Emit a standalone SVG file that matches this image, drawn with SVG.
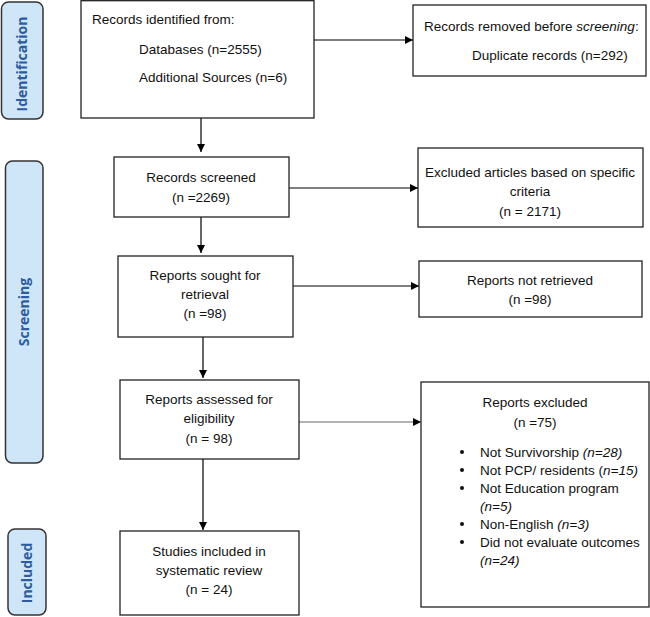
<svg xmlns="http://www.w3.org/2000/svg" width="650" height="617" viewBox="0 0 650 617">
<defs>
<marker id="ah" viewBox="0 0 10 10" refX="10" refY="5" markerWidth="8" markerHeight="8" markerUnits="userSpaceOnUse" orient="auto">
<path d="M0,0 L10,5 L0,10 Z" fill="#000"/>
</marker>
<style>
.box{fill:#fff;stroke:#222;stroke-width:1.3}
.tab{fill:#cfe6f8;stroke:#333;stroke-width:1.5}
.tl{font-family:"Open Sans","Liberation Sans",sans-serif;font-size:14px;font-weight:bold;fill:#2e5c9e;text-anchor:middle}
.t{font-family:"Liberation Sans",Arial,sans-serif;font-size:13.5px;fill:#111}
.c{text-anchor:middle}
.e{stroke:#000;stroke-width:1.2;fill:none;marker-end:url(#ah)}
.g{stroke:#666}
</style>
</defs>
<g id="tab-identification">
<rect class="tab" x="1.5" y="2" width="41.5" height="117" rx="7"/>
<text class="tl" transform="translate(27,64) rotate(-90)">Identification</text>
</g>
<g id="tab-screening">
<rect class="tab" x="5.5" y="161" width="37.5" height="302" rx="7"/>
<text class="tl" transform="translate(29,312) rotate(-90)">Screening</text>
</g>
<g id="tab-included">
<rect class="tab" x="8" y="529" width="38" height="86" rx="7"/>
<text class="tl" transform="translate(32,573) rotate(-90)">Included</text>
</g>
<g id="connectors">
<line class="e" x1="314" y1="40" x2="413" y2="40"/>
<line class="e" x1="201" y1="118" x2="201" y2="152"/>
<line class="e" x1="289" y1="188" x2="418" y2="188"/>
<line class="e" x1="201" y1="217" x2="201" y2="253"/>
<line class="e" x1="293" y1="286" x2="419" y2="286"/>
<line class="e" x1="203" y1="337" x2="203" y2="378"/>
<line class="e g" x1="299" y1="422" x2="421" y2="422"/>
<line class="e" x1="203" y1="459" x2="203" y2="530"/>
</g>
<g id="n-identified">
<rect class="box" x="81" y="0.7" width="233" height="117.3"/>
<text class="t" x="92" y="24">Records identified from:</text>
<text class="t" x="139" y="54">Databases (n=2555)</text>
<text class="t" x="139" y="82">Additional Sources (n=6)</text>
</g>
<g id="n-removed">
<rect class="box" x="413" y="5" width="233" height="71"/>
<text class="t" x="424" y="31">Records removed before <tspan font-style="italic">screening</tspan>:</text>
<text class="t" x="472" y="60">Duplicate records (n=292)</text>
</g>
<g id="n-screened">
<rect class="box" x="114" y="157" width="175" height="60"/>
<text class="t c" x="201" y="182">Records screened</text>
<text class="t c" x="201" y="202">(n =2269)</text>
</g>
<g id="n-excluded-criteria">
<rect class="box" x="418" y="148" width="225" height="79"/>
<text class="t c" x="530" y="177">Excluded articles based on specific</text>
<text class="t c" x="530" y="196">criteria</text>
<text class="t c" x="530" y="216">(n = 2171)</text>
</g>
<g id="n-sought">
<rect class="box" x="118" y="256" width="175" height="81"/>
<text class="t c" x="205" y="280">Reports sought for</text>
<text class="t c" x="205" y="299">retrieval</text>
<text class="t c" x="205" y="318">(n =98)</text>
</g>
<g id="n-not-retrieved">
<rect class="box" x="419" y="261" width="223" height="56"/>
<text class="t c" x="530" y="285">Reports not retrieved</text>
<text class="t c" x="530" y="304">(n =98)</text>
</g>
<g id="n-assessed">
<rect class="box" x="120" y="380" width="179" height="79"/>
<text class="t c" x="209" y="404">Reports assessed for</text>
<text class="t c" x="209" y="423">eligibility</text>
<text class="t c" x="209" y="443">(n = 98)</text>
</g>
<g id="n-reports-excluded">
<rect class="box" x="421" y="382" width="228" height="225"/>
<text class="t c" x="535" y="407">Reports excluded</text>
<text class="t c" x="535" y="427">(n =75)</text>
<g fill="#111">
<circle cx="462" cy="452" r="2"/>
<circle cx="462" cy="470" r="2"/>
<circle cx="462" cy="488" r="2"/>
<circle cx="462" cy="524" r="2"/>
<circle cx="462" cy="542" r="2"/>
</g>
<text class="t" x="480" y="457">Not Survivorship <tspan font-style="italic">(n=28)</tspan></text>
<text class="t" x="480" y="475">Not PCP/ residents (<tspan font-style="italic">n=15)</tspan></text>
<text class="t" x="480" y="493">Not Education program</text>
<text class="t" x="480" y="511" font-style="italic">(n=5)</text>
<text class="t" x="480" y="529">Non-English <tspan font-style="italic">(n=3)</tspan></text>
<text class="t" x="480" y="547">Did not evaluate outcomes</text>
<text class="t" x="480" y="565" font-style="italic">(n=24)</text>
</g>
<g id="n-included">
<rect class="box" x="120" y="531" width="179" height="84"/>
<text class="t c" x="209" y="556">Studies included in</text>
<text class="t c" x="209" y="575">systematic review</text>
<text class="t c" x="209" y="594">(n = 24)</text>
</g>
</svg>
